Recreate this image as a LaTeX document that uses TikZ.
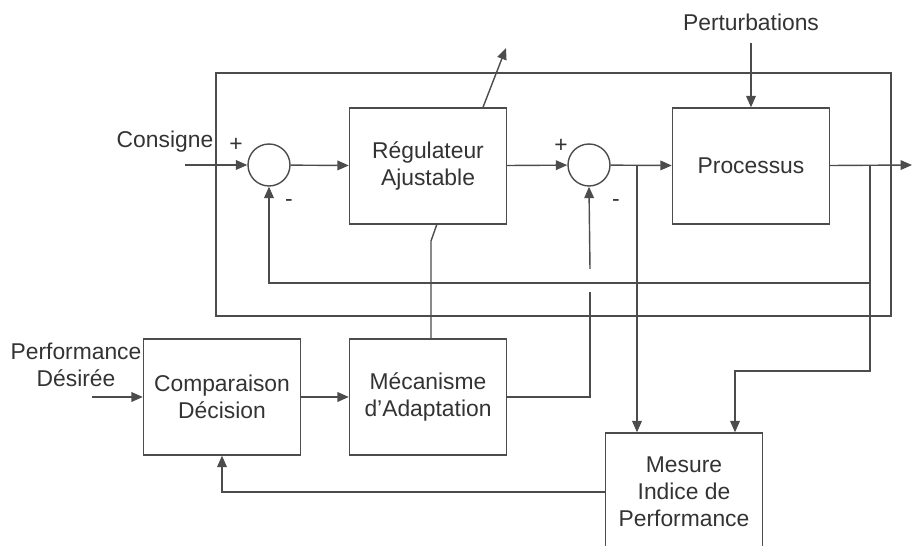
\documentclass[tikz,border=0pt]{standalone}
\usepackage{fontspec}
\setmainfont{Liberation Sans}
\usetikzlibrary{arrows.meta}
\definecolor{lin}{gray}{0.3}
\definecolor{txt}{gray}{0.2}
\tikzset{
  blk/.style={draw=lin, align=center, minimum width=3.14cm, minimum height=2.32cm, text=txt},
  sum/.style={draw=lin, circle, minimum size=0.84cm, inner sep=0pt},
  lbl/.style={align=center, text=txt, inner sep=1pt},
}
\begin{document}
\begin{tikzpicture}[x=0.02cm, y=-0.02cm, thick, draw=lin, >={Triangle[length=6.5pt,width=5.5pt]},
  font=\fontsize{13}{15.5}\selectfont]
\useasboundingbox (0,0) rectangle (914,546);
\clip (0,0) rectangle (914,546);
\node[draw=lin, minimum width=13.5cm, minimum height=4.86cm] (loop) at (553.5,194.5) {};
\node[sum] (s1) at (269,165) {};
\node[blk] (reg) at (428,166) {Régulateur\\Ajustable};
\node[sum] (s2) at (589,165) {};
\node[blk] (proc) at (751,166) {Processus};
\node[blk] (comp) at (222,397) {Comparaison\\Décision};
\node[blk] (meca) at (428,397) {Mécanisme\\d’Adaptation};
\node[blk, minimum height=2.36cm] (mes) at (684,492) {Mesure\\Indice de\\Performance};

\node[lbl] (cons) at (165,142) {Consigne};
\node[lbl] (pert) at (751,22) {Perturbations};
\node[lbl] (perf) at (76,365) {Performance\\Désirée};
\node[lbl] (p1) at (236,145) {+};
\node[lbl] (m1) at (289,203) {-};
\node[lbl] (p2) at (561,146) {+};
\node[lbl] (m2) at (616,203) {-};

\coordinate (c0) at (185,165);
\coordinate (d0) at (92,397);
\coordinate (q0) at (751,43);
\coordinate (out) at (912,165);
\coordinate (b1) at (637,165);
\coordinate (b2) at (870,165);
\coordinate (fb) at (870,283);
\coordinate (t2) at (735,371);
\coordinate (g1) at (590,292);
\coordinate (g2) at (590,269);
\coordinate (k1) at (437,224);
\coordinate (k2) at (431,241);
\coordinate (adj) at (506,48);

\draw[->] (c0) -- (s1);
\draw[->] (s1) -- (reg);
\draw[->] (reg) -- (s2);
\draw[->] (s2) -- (proc);
\draw[->] (proc) -- (out);
\draw[->] (q0) -- (proc);
\draw[->] ([xshift=1.1cm]reg.north) -- (adj);
\draw (k1) -- (k2) -- (k2 |- meca.north);
\draw[->] (b2) -- (fb) -| (s1.south);
\draw[->] (fb) |- (t2) -- (t2 |- mes.north);
\draw[->] (b1) -- (b1 |- mes.north);
\draw (meca) -| (g1);
\draw[->] (g2) -- (s2.south);
\draw[->] (d0) -- (comp);
\draw[->] (comp) -- (meca);
\draw[->] (mes.west) -| (comp.south);
\end{tikzpicture}
\end{document}
